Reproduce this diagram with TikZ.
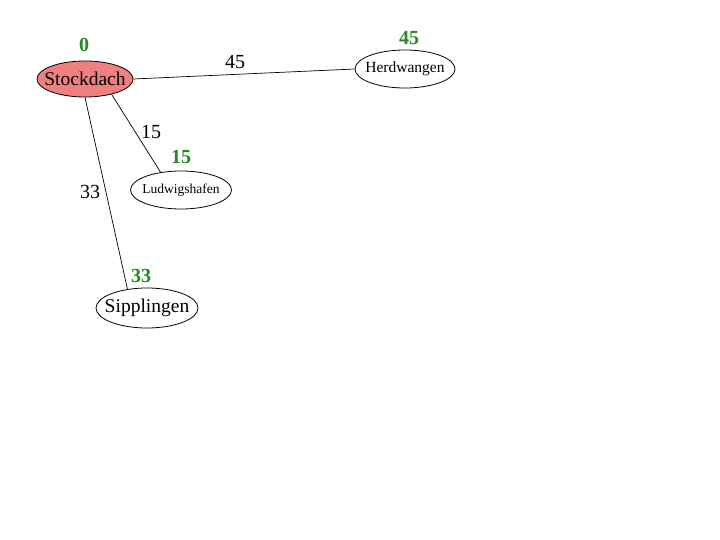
\documentclass[tikz,border=0pt]{standalone}
\usepackage{fontspec}
\setmainfont{Liberation Serif}
\usetikzlibrary{shapes.geometric}
\definecolor{dist}{RGB}{34,139,34}
\definecolor{startfill}{RGB}{240,128,128}
\tikzset{
  city/.style={ellipse, draw=black, line width=0.8pt, inner sep=0pt},
  cityname/.style={inner sep=0pt},
  distlabel/.style={text=dist, font=\bfseries\fontsize{20}{22}\selectfont, inner sep=0pt},
  edgelabel/.style={font=\fontsize{20}{22}\selectfont, inner sep=0pt},
  road/.style={draw=black, line width=0.7pt}
}
\begin{document}
\begin{tikzpicture}[x=1pt,y=-1pt]
\useasboundingbox (0,0) rectangle (720,540);
\node[city, fill=startfill, minimum width=96pt, minimum height=36pt] (s) at (85,79) {};
\node[city, minimum width=100pt, minimum height=38pt] (h) at (405,69) {};
\node[city, minimum width=101pt, minimum height=38pt] (l) at (181,190) {};
\node[city, minimum width=102pt, minimum height=40pt] (p) at (147,308) {};

\node[cityname, font=\fontsize{19.5}{21}\selectfont] (sn) at (s) {Stockdach};
\node[cityname, font=\fontsize{15.5}{18}\selectfont] (hn) at (h) {Herdwangen};
\node[cityname, font=\fontsize{13.5}{16}\selectfont] (ln) at (l) {Ludwigshafen};
\node[cityname, font=\fontsize{19.5}{21}\selectfont] (pn) at (p) {Sipplingen};

\node[distlabel] (ds) at (84,45) {0};
\node[distlabel] (dh) at (409,38) {45};
\node[distlabel] (dl) at (181,157) {15};
\node[distlabel] (dp) at (141,276) {33};

\draw[road] (s.east) -- (h.west);
\draw[road] (s.-30) -- (l.139);
\draw[road] (s.south) -- (p.136);

\node[edgelabel] (e1) at (235,62) {45};
\node[edgelabel] (e2) at (151,132) {15};
\node[edgelabel] (e3) at (90,192) {33};
\end{tikzpicture}
\end{document}
